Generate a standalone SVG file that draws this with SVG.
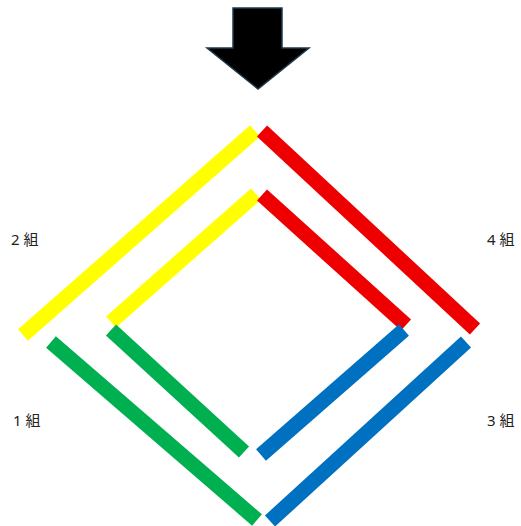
<svg xmlns="http://www.w3.org/2000/svg" width="521" height="526" viewBox="0 0 521 526">
<style>
.b{stroke-width:15;stroke-linecap:butt;fill:none}
.y{stroke:#FFFF00}.r{stroke:#EE0000}.g{stroke:#00B050}.u{stroke:#0070C0}
.t{font-family:"Noto Sans","Noto Sans CJK JP",sans-serif;font-size:15px;fill:#222}
</style>
<rect width="521" height="526" fill="#fff"/>
<g id="arrow">
<polygon points="233,8 282,8 282,48 309,48 258,89 207,48 233,48" fill="#000" stroke="#1F3A4D" stroke-width="1.5"/>
</g>
<g id="connectors">
<line class="b y" x1="23" y1="335" x2="255" y2="131"/>
<line class="b r" x1="262" y1="131" x2="475" y2="329"/>
<line class="b g" x1="51" y1="342" x2="257" y2="520"/>
<line class="b u" x1="270" y1="521" x2="466" y2="342"/>
<line class="b y" x1="111" y1="322" x2="256" y2="194"/>
<line class="b r" x1="262" y1="195" x2="406" y2="325"/>
<line class="b g" x1="111" y1="330" x2="244" y2="452"/>
<line class="b u" x1="261" y1="455" x2="404" y2="330"/>
</g>
<g id="label2"><text class="t" x="11" y="245">2 組</text></g>
<g id="label4"><text class="t" x="487" y="245">4 組</text></g>
<g id="label1"><text class="t" x="13" y="426">1 組</text></g>
<g id="label3"><text class="t" x="487" y="426">3 組</text></g>
</svg>
